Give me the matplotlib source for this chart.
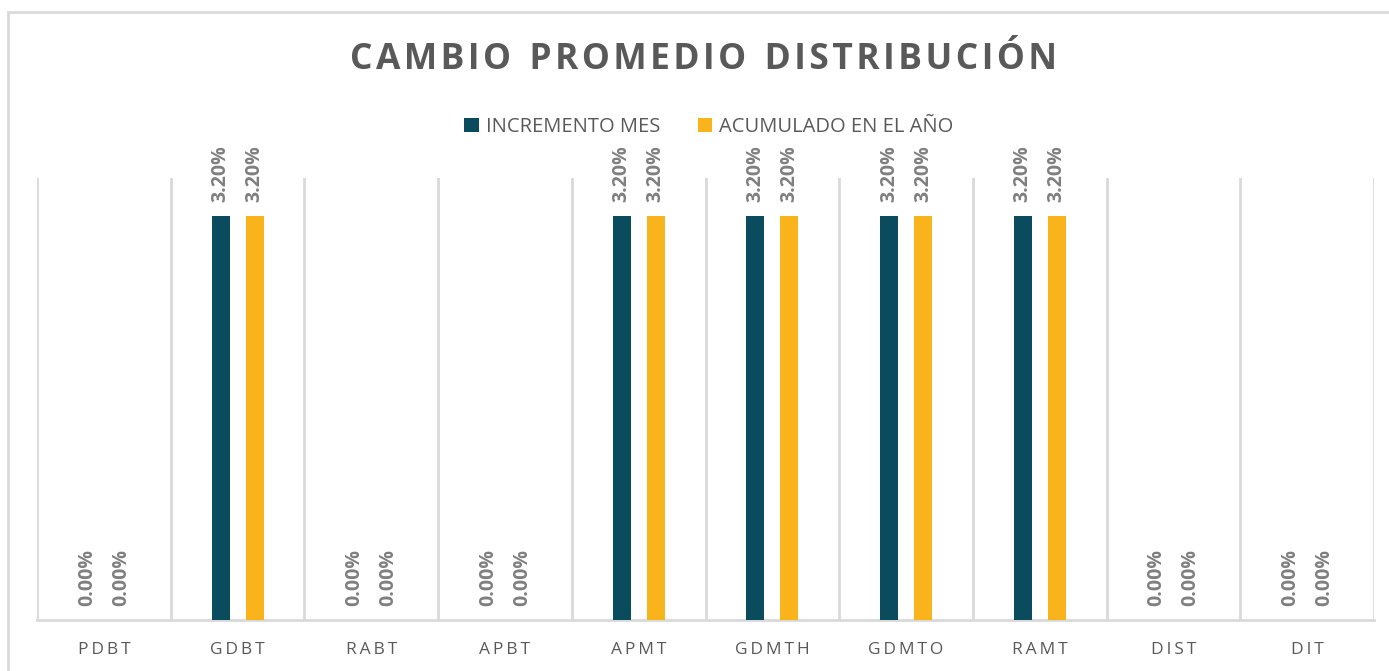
import matplotlib
matplotlib.use("Agg")
import matplotlib.pyplot as plt
import numpy as np
from matplotlib.patches import Rectangle

categories = ["PDBT", "GDBT", "RABT", "APBT", "APMT", "GDMTH", "GDMTO", "RAMT", "DIST", "DIT"]
incremento_mes = [0.0, 3.20, 0.0, 0.0, 3.20, 3.20, 3.20, 3.20, 0.0, 0.0]
acumulado_anio = [0.0, 3.20, 0.0, 0.0, 3.20, 3.20, 3.20, 3.20, 0.0, 0.0]
series_names = ["INCREMENTO MES", "ACUMULADO EN EL AÑO"]
title = "CAMBIO PROMEDIO DISTRIBUCIÓN"

C_TEAL = "#0A4C5E"
C_ORANGE = "#F9B31B"
C_GRID = "#D9D9D9"
C_TEXT = "#595959"
C_LABEL = "#7F7F7F"
FONT = ["Open Sans", "DejaVu Sans"]

W, H = 1389, 671
fig = plt.figure(figsize=(W / 100, H / 100), dpi=100)
fig.patch.set_facecolor("white")

# outer chart border
fig.patches.append(Rectangle((8 / W, -0.1), 1.2, 1 - 12 / H + 0.1, transform=fig.transFigure,
                             fill=False, edgecolor=C_GRID, linewidth=2))

ax = fig.add_axes([37 / W, 1 - 620 / H, (1374 - 37) / W, (620 - 178) / H])
n = len(categories)
x = np.arange(n)
bw = 0.135
off = 0.127
b1 = ax.bar(x - off, incremento_mes, bw, color=C_TEAL, label=series_names[0], zorder=3)
b2 = ax.bar(x + off, acumulado_anio, bw, color=C_ORANGE, label=series_names[1], zorder=3)

ax.set_xlim(-0.5, n - 0.5)
ax.set_ylim(0, 3.5)
ax.set_yticks([])
for b in np.arange(-0.5, n, 1.0):
    ax.axvline(b, color=C_GRID, lw=2, zorder=1)
for s in ["top", "right", "left"]:
    ax.spines[s].set_visible(False)
ax.spines["bottom"].set_color(C_GRID)
ax.spines["bottom"].set_linewidth(2)
ax.tick_params(axis="x", length=0, pad=16)
ax.set_xticks(x)
ax.set_xticklabels(["\u2009".join(c) for c in categories], fontsize=12.5, color=C_TEXT, family=FONT)

for bars, vals in ((b1, incremento_mes), (b2, acumulado_anio)):
    for rect, v in zip(bars, vals):
        ax.annotate(f"{v:.2f}%", (rect.get_x() + rect.get_width() / 2, v),
                    xytext=(0, 14), textcoords="offset pixels", rotation=90,
                    ha="center", va="bottom", fontsize=14, fontweight="bold",
                    color=C_LABEL, family=FONT)

spaced_title = "  ".join("\u200a".join(w) for w in title.split(" "))
fig.text(703 / W, 1 - 60 / H, spaced_title,
         ha="center", va="center", fontsize=25.5, fontweight="bold", color=C_TEXT, family=FONT)

leg = fig.legend(handles=[b1, b2], labels=series_names, loc="center", bbox_to_anchor=(709 / W, 1 - 127 / H),
                 ncol=2, frameon=False, handlelength=0.7, handleheight=0.7,
                 handletextpad=0.35, columnspacing=1.9, prop={"family": FONT, "size": 14.5})
for t in leg.get_texts():
    t.set_color(C_TEXT)

fig.savefig("out.png", dpi=100, facecolor="white")
